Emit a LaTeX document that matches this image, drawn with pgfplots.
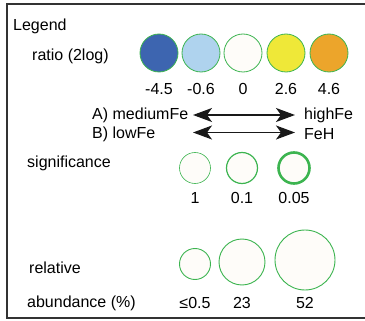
\documentclass[border=0pt]{standalone}
\usepackage{fontspec}
\setmainfont{Liberation Sans}
\usepackage{pgfplots}
\pgfplotsset{compat=1.18}
\usetikzlibrary{arrows.meta}
\definecolor{gr}{RGB}{60,180,80}
\definecolor{cream}{RGB}{254,252,249}
\definecolor{cblue}{RGB}{61,101,176}
\definecolor{clblue}{RGB}{175,211,238}
\definecolor{cyel}{RGB}{239,232,56}
\definecolor{corg}{RGB}{236,165,43}
\tikzset{lab/.style={font=\fontsize{16}{19}\selectfont, inner sep=0pt},
  arr/.style={black!90, line width=1.2pt, {Stealth[length=19pt,width=14pt,inset=5pt]}-{Stealth[length=19pt,width=14pt,inset=5pt]}}}
\begin{document}
\begin{tikzpicture}
\useasboundingbox (0,0) rectangle (365pt,321pt);
\begin{axis}[
  at={(0,0)}, anchor=south west,
  scale only axis, width=365pt, height=321pt,
  xmin=0, xmax=365, ymin=0, ymax=321, y dir=reverse,
  hide axis, clip=false,
]
% frame
\addplot[black!80, line width=1.8pt] coordinates {(366,4) (7,4) (7,318) (366,318)};
% ratio circles
\addplot[only marks, mark=*, mark size=19pt, mark options={draw=gr, fill=cblue, line width=0.8pt}] coordinates {(159,53)};
\addplot[only marks, mark=*, mark size=19pt, mark options={draw=gr, fill=clblue, line width=0.8pt}] coordinates {(201,53)};
\addplot[only marks, mark=*, mark size=19pt, mark options={draw=gr, fill=cream, line width=0.8pt}] coordinates {(243,53)};
\addplot[only marks, mark=*, mark size=19pt, mark options={draw=gr, fill=cyel, line width=0.8pt}] coordinates {(286,53)};
\addplot[only marks, mark=*, mark size=19pt, mark options={draw=gr, fill=corg, line width=0.8pt}] coordinates {(329,53)};
% arrows
\addplot[arr] coordinates {(193,115) (295,115)};
\addplot[arr] coordinates {(193,132.5) (295,132.5)};
% significance
\addplot[only marks, mark=*, mark size=15.5pt, mark options={draw=gr, fill=cream, line width=0.6pt}] coordinates {(195,168)};
\addplot[only marks, mark=*, mark size=15.5pt, mark options={draw=gr, fill=cream, line width=1.2pt}] coordinates {(242,168)};
\addplot[only marks, mark=*, mark size=15.5pt, mark options={draw=gr, fill=cream, line width=2.6pt}] coordinates {(294,168)};
% abundance
\addplot[only marks, mark=*, mark size=15.5pt, mark options={draw=gr, fill=cream, line width=0.9pt}] coordinates {(195,264)};
\addplot[only marks, mark=*, mark size=23pt, mark options={draw=gr, fill=cream, line width=0.9pt}] coordinates {(242,262)};
\addplot[only marks, mark=*, mark size=30pt, mark options={draw=gr, fill=cream, line width=0.9pt}] coordinates {(305,260)};
% texts
\node[lab, anchor=west] at (axis cs:13,26) {Legend};
\node[lab, anchor=west] at (axis cs:32,56) {ratio (2log)};
\node[lab] at (axis cs:159,89) {-4.5};
\node[lab] at (axis cs:201,89) {-0.6};
\node[lab] at (axis cs:243,89) {0};
\node[lab] at (axis cs:286,89) {2.6};
\node[lab] at (axis cs:329,89) {4.6};
\node[lab, anchor=west] at (axis cs:92,115) {A) mediumFe};
\node[lab, anchor=west] at (axis cs:304,115) {highFe};
\node[lab, anchor=west] at (axis cs:92,134) {B) lowFe};
\node[lab, anchor=west] at (axis cs:304,134) {FeH};
\node[lab, anchor=west] at (axis cs:27,163) {significance};
\node[lab] at (axis cs:195,198) {1};
\node[lab] at (axis cs:242,198) {0.1};
\node[lab] at (axis cs:294,198) {0.05};
\node[lab, anchor=west] at (axis cs:29,268) {relative};
\node[lab, anchor=west] at (axis cs:27,303) {abundance (\%)};
\node[lab] at (axis cs:195,303) {≤0.5};
\node[lab] at (axis cs:242,303) {23};
\node[lab] at (axis cs:305,303) {52};
\end{axis}
\end{tikzpicture}
\end{document}
